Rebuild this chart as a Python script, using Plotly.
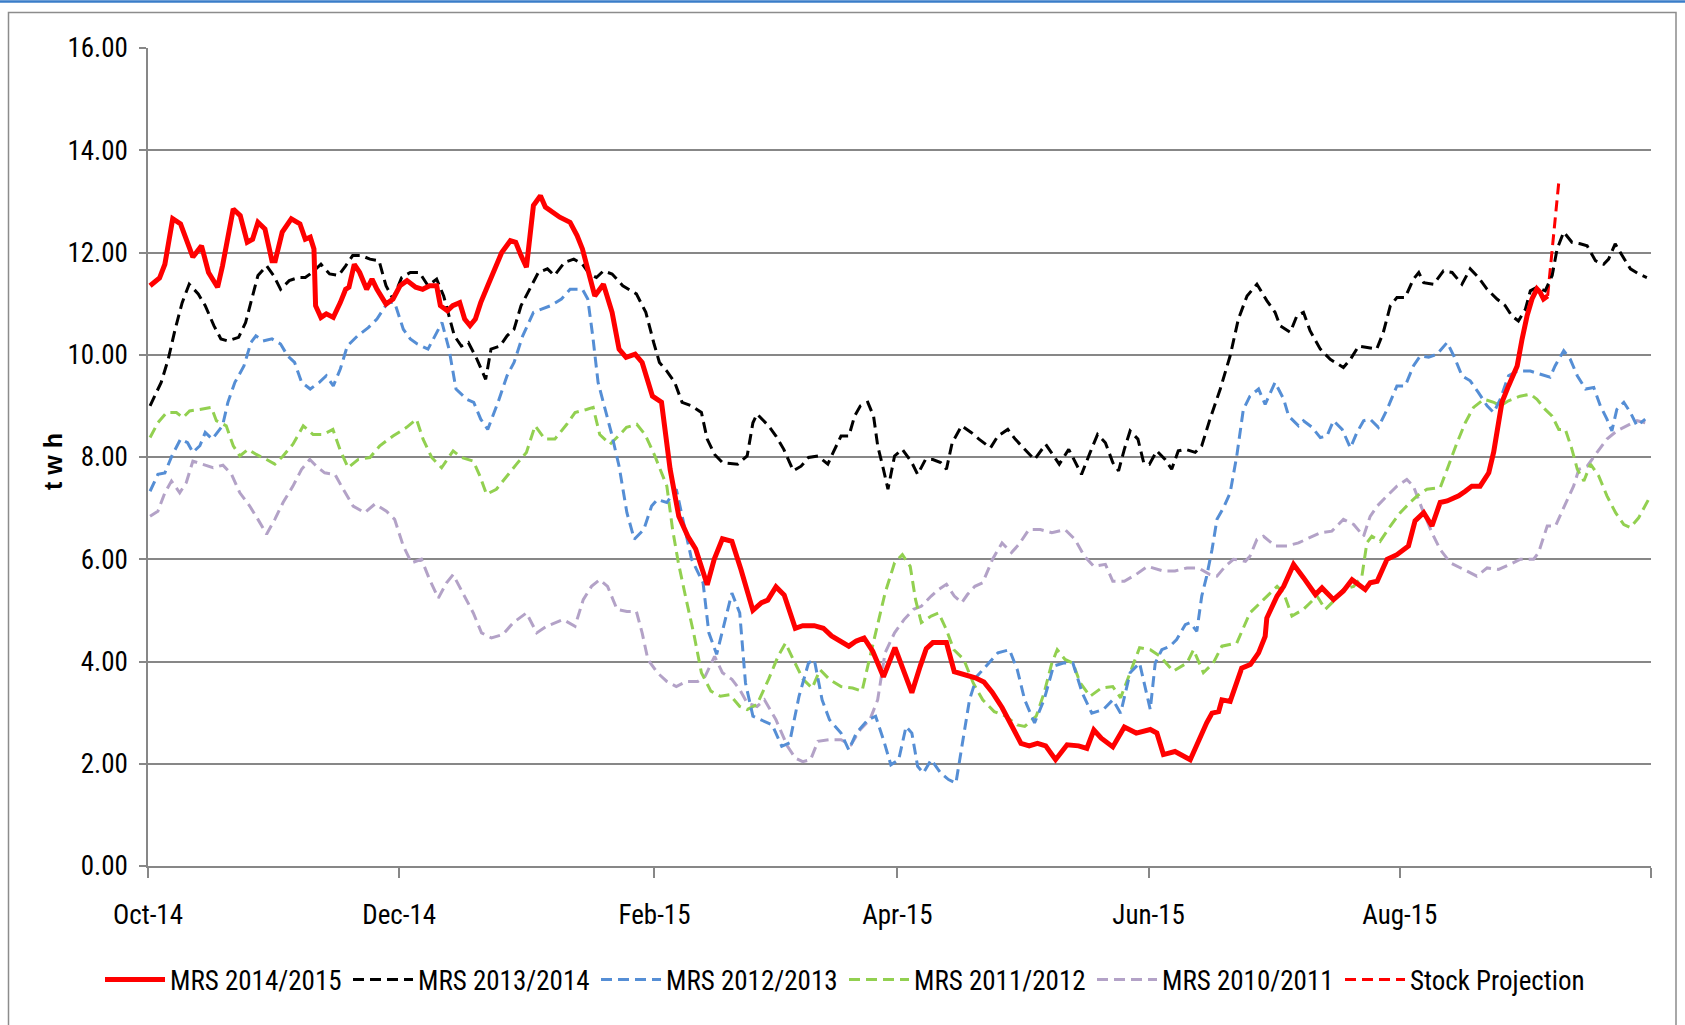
import pandas as pd
import plotly.graph_objects as go

# --- data (day offsets from 1 Oct 2014, stock in twh) ---
START = pd.Timestamp("2014-10-01")

mrs_1415_days = [
    0.5, 2.8, 4.1, 6, 7.9, 9.2, 10.9, 13, 14.7, 16.9, 18.1, 20.7, 22.4, 24.1, 25.4,
    26.7, 28.4, 30.1, 30.9, 32.6, 34.8, 36.9, 38.2, 39.4, 40.3, 40.7, 42, 43.3, 45,
    46.7, 48, 48.8, 50.1, 51.4, 53.1, 54.4, 55.6, 57.8, 59.5, 61.2, 62.9, 65, 66.7,
    68.4, 70.1, 71, 72.7, 74, 75.7, 76.9, 78.2, 79.5, 80.8, 82.5, 84.2, 85.9, 88,
    89.3, 90.6, 91.9, 93.6, 95.3, 96.5, 98.3, 100, 102.5, 104.2, 105.5, 106.3,
    107.6, 108.5, 110.6, 112.7, 114.4, 116.1, 118.3, 120, 122.5, 124.7, 126.8,
    128.9, 131.1, 133, 135.8, 137.5, 139.5, 141.8, 144, 146.9, 149, 150.5, 152.5,
    154.5, 157.2, 159, 161.8, 164, 166, 168, 170.2, 172, 173.9, 176, 178.6, 181.4,
    183, 185.5, 187.5, 189, 190.6, 193.9, 195.8, 198, 200.9, 203, 205, 207.4, 209.5,
    212, 214, 216, 218, 220.4, 223.2, 226, 228, 229.7, 231.5, 234.3, 237.1, 240,
    243.4, 245, 246.6, 249.4, 253.1, 255.1, 257.1, 258.4, 260, 260.8, 262.8, 265.6,
    267.7, 269.7, 271.3, 271.7, 274.2, 275.8, 278.2, 280.6, 283.5, 285.1, 287.9,
    290.3, 292.4, 295.6, 296.8, 298.5, 300.9, 303.3, 306.1, 307.7, 309.8, 311.8,
    313.8, 315.5, 318.3, 319.9, 321.5, 323.5, 325.6, 326.8, 328, 328.8, 330.4,
    332.5, 333.7, 334.9, 336.1, 337.3, 338.1, 338.9, 339.9,
]
mrs_1415 = [
    11.35, 11.5, 11.77, 12.66, 12.56, 12.3, 11.91, 12.13, 11.61, 11.32, 11.74, 12.85,
    12.72, 12.2, 12.26, 12.59, 12.46, 11.84, 11.84, 12.4, 12.66, 12.56, 12.26, 12.3,
    12.07, 10.96, 10.73, 10.8, 10.73, 11.02, 11.28, 11.32, 11.77, 11.61, 11.28,
    11.48, 11.28, 10.99, 11.09, 11.35, 11.45, 11.32, 11.28, 11.35, 11.35, 10.96,
    10.86, 10.96, 11.02, 10.7, 10.57, 10.7, 11.02, 11.35, 11.68, 12.0, 12.23, 12.2,
    11.94, 11.71, 12.92, 13.11, 12.89, 12.79, 12.69, 12.59, 12.33, 12.07, 11.81,
    11.48, 11.15, 11.38, 10.83, 10.11, 9.95, 10.01, 9.85, 9.19, 9.07, 7.76, 6.84,
    6.45, 6.2, 5.5, 6.0, 6.4, 6.35, 5.8, 5.0, 5.15, 5.2, 5.46, 5.3, 4.65, 4.7, 4.7,
    4.65, 4.5, 4.4, 4.3, 4.4, 4.46, 4.2, 3.7, 4.27, 3.9, 3.39, 3.9, 4.25, 4.37, 4.37,
    3.8, 3.75, 3.68, 3.6, 3.4, 3.1, 2.8, 2.4, 2.35, 2.4, 2.35, 2.08, 2.37, 2.35, 2.3,
    2.66, 2.5, 2.33, 2.72, 2.6, 2.67, 2.6, 2.18, 2.24, 2.08, 2.47, 2.8, 2.99, 3.02,
    3.25, 3.22, 3.87, 3.94, 4.17, 4.49, 4.85, 5.28, 5.47, 5.9, 5.64, 5.31, 5.44,
    5.21, 5.38, 5.6, 5.41, 5.54, 5.57, 6.0, 6.09, 6.26, 6.75, 6.91, 6.65, 7.11, 7.14,
    7.24, 7.33, 7.43, 7.43, 7.69, 8.1, 8.61, 9.07, 9.39, 9.78, 10.31, 10.76, 11.09,
    11.29, 11.22, 11.09, 11.15,
]

mrs_1314_days = [
    0.5, 3.2, 4.9, 6.6, 8.3, 10, 12.2, 13.9, 16, 17.7, 19.4, 22, 23.7, 25, 26.7,
    28.8, 30.5, 32.2, 34.3, 36.5, 38.2, 39.9, 42, 44.1, 46.3, 48, 49.7, 51.8, 53.9,
    56.1, 57.8, 59.5, 61.6, 63.7, 65.9, 68, 70.1, 71.8, 73.1, 74.4, 76.1, 77.8,
    79.9, 82, 83.3, 85.5, 87.2, 88.9, 90.6, 92.7, 94.8, 97, 98.7, 101.2, 103.4,
    105.5, 107.2, 108.9, 110.6, 112.7, 115.3, 118.6, 120.9, 122.8, 124.2, 126,
    127.9, 129.7, 132, 134.4, 135.8, 137.6, 139.5, 143.2, 145.5, 146.9, 147.9,
    150.7, 152.5, 154.4, 156.7, 158.6, 160.4, 162.7, 165.1, 166.4, 168.3, 170.2,
    171.6, 173, 174.8, 176.2, 177.2, 178.6, 179.7, 181.3, 183.2, 185.5, 186.9,
    188.8, 190.6, 192.5, 193.9, 195.3, 197.6, 199.9, 201.8, 204.6, 206.4, 208.8,
    210.6, 212.9, 215.3, 218, 220.4, 221.3, 223.6, 225.5, 226.7, 228.8, 230.6,
    232.5, 234.3, 235.7, 237.1, 238.5, 240.4, 241.8, 243.2, 245, 247, 248.6, 250.2,
    251.9, 254.3, 255.9, 257.9, 260.4, 262.8, 264.8, 266.9, 269.3, 271.7, 273.7,
    274.9, 277.4, 279, 280.6, 282.2, 284.7, 287.1, 290.3, 292, 294, 296, 298.4, 300,
    301.7, 303.3, 305.3, 307.3, 308.6, 309.8, 312.2, 314.6, 316.7, 319.1, 321.1,
    323.1, 325.2, 327.6, 329.6, 331.2, 332.8, 334.5, 335.7, 337.3, 339.3, 341,
    342.2, 343.8, 345.8, 347.8, 349.5, 351.5, 353.5, 354.7, 356.3, 358, 360, 362,
    364,
]
mrs_1314 = [
    9.0, 9.46, 9.91, 10.5, 11.02, 11.38, 11.19, 10.96, 10.57, 10.31, 10.27, 10.34,
    10.63, 11.02, 11.55, 11.74, 11.55, 11.28, 11.45, 11.51, 11.51, 11.61, 11.77,
    11.58, 11.55, 11.74, 11.94, 11.94, 11.87, 11.84, 11.35, 11.09, 11.51, 11.61,
    11.61, 11.35, 11.48, 11.15, 10.76, 10.37, 10.17, 10.24, 9.91, 9.52, 10.11,
    10.17, 10.37, 10.5, 10.96, 11.28, 11.61, 11.68, 11.55, 11.81, 11.87, 11.77,
    11.58, 11.51, 11.64, 11.58, 11.35, 11.19, 10.83, 10.24, 9.85, 9.68, 9.46, 9.07,
    9.0, 8.87, 8.35, 8.05, 7.89, 7.86, 8.02, 8.67, 8.84, 8.61, 8.41, 8.15, 7.73,
    7.82, 7.99, 8.02, 7.86, 8.09, 8.41, 8.41, 8.8, 9.0, 9.07, 8.8, 8.22, 7.76, 7.37,
    8.02, 8.15, 7.89, 7.66, 7.95, 7.95, 7.89, 7.76, 8.28, 8.61, 8.48, 8.35, 8.18,
    8.41, 8.54, 8.35, 8.15, 7.95, 8.25, 7.95, 7.86, 8.15, 7.86, 7.66, 8.09, 8.44,
    8.28, 7.89, 7.73, 8.15, 8.51, 8.35, 7.89, 7.86, 8.12, 7.95, 7.76, 8.12, 8.15,
    8.09, 8.22, 8.74, 9.33, 9.98, 10.7, 11.15, 11.38, 11.06, 10.83, 10.57, 10.44,
    10.76, 10.83, 10.47, 10.11, 9.91, 9.75, 9.91, 10.17, 10.14, 10.11, 10.44, 10.96,
    11.12, 11.12, 11.48, 11.61, 11.41, 11.38, 11.64, 11.61, 11.38, 11.68, 11.51,
    11.28, 11.09, 10.96, 10.76, 10.66, 10.89, 11.25, 11.32, 11.25, 11.55, 12.07,
    12.4, 12.2, 12.17, 12.13, 11.84, 11.77, 11.87, 12.17, 11.94, 11.68, 11.58, 11.51,
]

mrs_1213_days = [
    0.5, 2.4, 4.1, 5.8, 7.9, 9.6, 10.9, 12.6, 13.9, 15.6, 18.1, 19.4, 21.1, 23.3,
    25, 26.2, 27.9, 30.1, 32.2, 33.9, 35.6, 37.3, 39.4, 41.6, 43.3, 45, 46.7, 48.4,
    50.9, 53.5, 55.6, 58.2, 59.9, 62, 63.7, 65.4, 68, 69.7, 71.4, 73.1, 74.8, 77.4,
    79.1, 80.8, 82.5, 85, 87.2, 88.9, 91, 93.6, 95.7, 97.8, 100.4, 102.5, 105.5,
    106.8, 108, 109.3, 112.5, 114.4, 116.3, 118.1, 120.4, 122.3, 123.7, 126, 128.3,
    129.7, 132, 134.8, 136.2, 138.1, 140.4, 141.8, 143.7, 145.1, 146.9, 149.7,
    151.6, 153.9, 155.8, 158.1, 160.4, 161.8, 163.7, 165.5, 168.3, 170.2, 172,
    174.8, 176.7, 178.6, 180.4, 182.3, 184.1, 185.5, 186.9, 188.3, 190.2, 192.5,
    194.4, 196.2, 198.1, 199.5, 201.3, 203.6, 206.4, 209.2, 211.1, 212.9, 215.3,
    217.6, 219.9, 222.3, 224.6, 226.9, 229.2, 232, 234.3, 236.2, 238.5, 240.8,
    243.4, 244.6, 246.2, 248.2, 249.8, 251.9, 253.1, 254.7, 255.9, 257.1, 258.4,
    259.6, 261.2, 262.8, 264.4, 266, 267.6, 269.7, 271.3, 273.7, 275.8, 277, 279.4,
    280.6, 282.7, 284.7, 286.3, 287.9, 290, 292, 293.6, 295.2, 296.8, 298.8, 300.9,
    303.3, 305.3, 307.3, 309, 311, 313, 315.5, 317.1, 319.1, 321.1, 323.1, 325.2,
    326.8, 328.4, 330.4, 332.5, 335.7, 338.1, 340.5, 341.7, 343.8, 345.4, 347.1,
    349.1, 351.1, 352.7, 354.3, 355.5, 356.7, 358.4, 360, 361.6, 363.6,
]
mrs_1213 = [
    7.33, 7.66, 7.69, 8.02, 8.35, 8.28, 8.09, 8.22, 8.48, 8.35, 8.61, 9.07, 9.46,
    9.78, 10.24, 10.37, 10.27, 10.31, 10.21, 9.98, 9.85, 9.46, 9.33, 9.46, 9.59,
    9.39, 9.72, 10.17, 10.37, 10.53, 10.7, 11.02, 11.02, 10.5, 10.31, 10.21, 10.11,
    10.37, 10.63, 10.11, 9.33, 9.13, 9.07, 8.74, 8.54, 9.07, 9.59, 9.85, 10.37,
    10.83, 10.89, 10.96, 11.09, 11.28, 11.28, 11.09, 10.37, 9.46, 8.48, 7.82, 6.91,
    6.39, 6.58, 7.04, 7.17, 7.11, 7.37, 6.84, 6.0, 5.54, 4.56, 4.14, 4.89, 5.34,
    4.95, 3.58, 2.93, 2.83, 2.76, 2.34, 2.41, 3.32, 3.97, 4.04, 3.25, 2.86, 2.6,
    2.27, 2.6, 2.86, 2.93, 2.47, 1.98, 2.08, 2.73, 2.6, 1.95, 1.82, 2.08, 1.82, 1.69,
    1.62, 2.6, 3.25, 3.71, 3.91, 4.17, 4.23, 3.84, 3.25, 2.8, 3.25, 3.91, 3.97,
    3.97, 3.38, 2.99, 3.06, 3.25, 2.99, 3.78, 3.97, 3.06, 3.97, 4.23, 4.3, 4.43,
    4.72, 4.76, 4.59, 5.28, 5.67, 6.19, 6.78, 7.01, 7.3, 8.02, 8.93, 9.19, 9.33,
    9.03, 9.46, 9.13, 8.8, 8.61, 8.71, 8.58, 8.38, 8.41, 8.71, 8.54, 8.18, 8.48,
    8.71, 8.74, 8.58, 8.93, 9.39, 9.39, 9.78, 9.98, 9.95, 10.01, 10.24, 9.98, 9.59,
    9.49, 9.26, 9.0, 8.87, 9.13, 9.59, 9.68, 9.68, 9.62, 9.56, 9.78, 10.08, 9.91,
    9.59, 9.33, 9.36, 9.0, 8.74, 8.51, 8.93, 9.07, 8.87, 8.61, 8.74,
]

mrs_1112_days = [
    0.5, 2.4, 4.5, 6.9, 8.5, 10.1, 12.6, 15.4, 16.6, 19, 20.7, 22.3, 24.3, 26.3,
    28.8, 30.8, 32.8, 35.2, 37.7, 40.1, 42.5, 44.9, 46.6, 48.6, 51, 53.9, 56.3,
    59.5, 62.8, 65.2, 66.8, 68.9, 71.3, 74.1, 76.1, 79, 80.6, 82.2, 84.6, 87.1,
    89.5, 91.9, 94, 96.4, 98.8, 101.7, 103.7, 106.5, 108.1, 109.7, 112.2, 114.6,
    116.2, 118.7, 120.7, 123.1, 126, 127.4, 128.8, 130.7, 132.5, 134.4, 136.7, 139,
    141.3, 143.7, 145.5, 147.9, 150.7, 153, 154.8, 156.7, 159.1, 161.3, 163.2,
    165.5, 168.3, 171.1, 173.4, 174.8, 176.7, 179, 181.3, 183.2, 185.1, 186.4,
    187.8, 190.2, 192, 193.9, 195.7, 198.1, 200.4, 202.7, 205.5, 208.3, 211.1,
    212.9, 215.7, 217.6, 219.5, 220.8, 222.7, 224.6, 226.4, 228.8, 231.5, 234.3,
    236.2, 238.5, 240.8, 243.4, 245.8, 249, 252.3, 253.9, 256.3, 258.7, 260.8,
    264.4, 267.6, 270.9, 274.2, 275.8, 277.8, 280.6, 283.9, 285.9, 288.3, 290.3,
    292.8, 294.8, 296, 297.2, 299.2, 301.7, 304.1, 306.5, 308.2, 310.6, 313.8,
    315.5, 317.9, 319.9, 321.9, 324.4, 326.8, 328.4, 330.4, 333.2, 335.7, 337.3,
    339.3, 341, 342.6, 344.2, 345.8, 347.1, 348.7, 350.3, 352.3, 354.3, 356.4,
    358.4, 360, 362, 364.4,
]
mrs_1112 = [
    8.38, 8.67, 8.87, 8.87, 8.77, 8.9, 8.93, 8.97, 8.71, 8.61, 8.22, 8.02, 8.15,
    8.05, 7.95, 7.86, 8.02, 8.25, 8.61, 8.44, 8.44, 8.54, 8.15, 7.79, 7.95, 7.99,
    8.22, 8.41, 8.58, 8.74, 8.35, 7.99, 7.79, 8.12, 7.99, 7.92, 7.63, 7.27, 7.37,
    7.63, 7.86, 8.09, 8.61, 8.35, 8.35, 8.64, 8.87, 8.93, 8.97, 8.44, 8.25, 8.44,
    8.58, 8.64, 8.44, 8.02, 7.43, 6.58, 5.93, 5.21, 4.56, 3.78, 3.42, 3.32, 3.35,
    3.12, 3.06, 3.16, 3.65, 4.1, 4.36, 4.04, 3.65, 3.48, 3.84, 3.65, 3.51, 3.48,
    3.42, 3.91, 4.56, 5.34, 5.93, 6.09, 5.86, 5.21, 4.76, 4.89, 4.95, 4.62, 4.23,
    4.04, 3.58, 3.25, 3.02, 2.93, 2.76, 2.73, 2.93, 3.38, 3.97, 4.23, 4.04, 3.97,
    3.58, 3.32, 3.48, 3.51, 3.29, 3.78, 4.27, 4.23, 4.1, 3.81, 3.97, 4.23, 3.78,
    3.97, 4.3, 4.36, 4.95, 5.21, 5.47, 5.34, 4.89, 5.02, 5.28, 5.02, 5.21, 5.41,
    5.47, 5.67, 6.32, 6.45, 6.35, 6.65, 6.91, 7.11, 7.24, 7.37, 7.4, 7.76, 8.28,
    8.67, 8.97, 9.13, 9.07, 9.0, 9.1, 9.19, 9.23, 9.13, 8.93, 8.8, 8.54, 8.54, 8.15,
    7.76, 7.53, 7.86, 7.63, 7.24, 6.91, 6.68, 6.62, 6.81, 7.17,
]

mrs_1011_days = [
    0.5, 2.4, 4.1, 5.7, 7.7, 9.3, 10.9, 13.4, 15.8, 18.2, 20.3, 22.3, 24.7, 26.7,
    28.8, 30.8, 32.8, 35.2, 37.3, 39.3, 40.9, 42.9, 45.4, 47.4, 49.8, 52.6, 55.1,
    57.9, 59.9, 62, 64, 66.4, 68.4, 70.5, 72.5, 74.1, 76.5, 79, 81, 83.4, 86.2,
    88.7, 91.9, 94.4, 96.8, 100.8, 103.7, 105.7, 107.7, 109.7, 111.6, 113.9, 116.3,
    118.6, 120, 121.4, 123.7, 126, 128.3, 130.7, 133.5, 135.3, 137.6, 139.5, 141.8,
    143.7, 145.5, 147.9, 149.7, 152.5, 155.3, 157.2, 159, 160.9, 162.7, 165.5,
    168.3, 170.7, 173, 175.3, 177.2, 179, 181.3, 183.6, 185.9, 187.8, 190.2, 192,
    193.9, 195.8, 197.6, 199, 200.8, 202.7, 205.1, 207.4, 209.7, 211.5, 213.9,
    216.7, 219.5, 222.7, 225.1, 227.4, 229.7, 232.5, 234.3, 237.1, 239.9, 242.7,
    246.6, 249.4, 252.3, 255.1, 257.9, 259.6, 261.6, 263.6, 266.5, 267.6, 269.3,
    270.9, 273.7, 276.6, 279.4, 282.2, 284.7, 287.5, 290.3, 292.8, 295.2, 296.8,
    298.5, 300.9, 303.3, 305.7, 307.3, 309.3, 311.8, 313.8, 316.3, 319.5, 322.7,
    325.2, 328, 330.8, 333.3, 336.5, 337.7, 339.8, 341.8, 343.8, 346.2, 347.5,
    349.5, 351.9, 354.3, 356.7, 359.2, 361.6, 363.6,
]
mrs_1011 = [
    6.84, 6.94, 7.3, 7.53, 7.3, 7.5, 7.92, 7.86, 7.79, 7.84, 7.66, 7.3, 7.04, 6.78,
    6.49, 6.78, 7.11, 7.43, 7.76, 7.95, 7.82, 7.69, 7.66, 7.37, 7.04, 6.91, 7.08,
    6.94, 6.78, 6.26, 5.93, 6.0, 5.6, 5.24, 5.54, 5.7, 5.34, 4.95, 4.56, 4.46, 4.53,
    4.76, 4.95, 4.56, 4.69, 4.82, 4.69, 5.21, 5.47, 5.6, 5.47, 5.02, 4.98, 4.98,
    4.56, 4.04, 3.78, 3.61, 3.51, 3.61, 3.61, 3.71, 4.1, 3.78, 3.65, 3.45, 3.19,
    3.12, 3.25, 2.86, 2.34, 2.11, 2.04, 2.08, 2.44, 2.47, 2.47, 2.37, 2.67, 2.86,
    3.25, 4.17, 4.56, 4.82, 5.02, 5.08, 5.28, 5.41, 5.51, 5.28, 5.15, 5.31, 5.47,
    5.54, 6.0, 6.32, 6.13, 6.29, 6.58, 6.58, 6.52, 6.58, 6.39, 6.06, 5.86, 5.9,
    5.57, 5.57, 5.7, 5.86, 5.77, 5.77, 5.83, 5.83, 5.7, 5.67, 5.86, 6.0, 5.96, 6.06,
    6.39, 6.45, 6.26, 6.26, 6.32, 6.42, 6.52, 6.55, 6.78, 6.68, 6.45, 6.84, 7.04,
    7.24, 7.43, 7.56, 7.43, 7.01, 6.52, 6.19, 5.93, 5.8, 5.67, 5.83, 5.8, 5.9, 6.0,
    6.0, 6.13, 6.65, 6.65, 7.01, 7.43, 7.76, 7.82, 8.09, 8.35, 8.51, 8.61, 8.71,
    8.67,
]

projection_days = [339.9, 341.2, 342.6]
projection = [11.15, 12.2, 13.37]

tick_dates = ["2014-10-01", "2014-12-01", "2015-02-01", "2015-04-01",
              "2015-06-01", "2015-08-01", "2015-10-01"]
tick_labels = ["Oct-14", "Dec-14", "Feb-15", "Apr-15", "Jun-15", "Aug-15", ""]

# --- layout constants (pixels) ---
W, H = 1685, 1025
ML, MR, MT, MB = 148, 34, 48, 159
PLOT_W = W - ML - MR
PLOT_H = H - MT - MB
FONT = "Liberation Sans Narrow, Arial Narrow, Roboto Condensed, DejaVu Sans Condensed, sans-serif"
GRID = "#878787"


def to_dates(days):
    return START + pd.to_timedelta(days, unit="D")


def px_x(px):
    return (px - ML) / PLOT_W


def px_y(py):
    return (H - MB - py) / PLOT_H


series = [
    ("MRS 2014/2015", mrs_1415_days, mrs_1415, "#ff0000", 5, "solid"),
    ("MRS 2013/2014", mrs_1314_days, mrs_1314, "#000000", 3, "11px,6px"),
    ("MRS 2012/2013", mrs_1213_days, mrs_1213, "#558ed5", 3, "11px,6px"),
    ("MRS 2011/2012", mrs_1112_days, mrs_1112, "#92d050", 3, "11px,6px"),
    ("MRS 2010/2011", mrs_1011_days, mrs_1011, "#b3a2c7", 3, "11px,6px"),
    ("Stock Projection", projection_days, projection, "#ff0000", 3, "11px,6px"),
]

fig = go.Figure()
# draw older seasons first so the current season sits on top
for name, days, vals, color, width, dash in reversed(series):
    fig.add_trace(go.Scatter(
        x=to_dates(days), y=vals, name=name, mode="lines",
        line=dict(color=color, width=width, dash=dash),
    ))

fig.update_layout(
    width=W, height=H,
    margin=dict(l=ML, r=MR, t=MT, b=MB),
    paper_bgcolor="white", plot_bgcolor="white",
    font=dict(family=FONT, size=27, color="black"),
    showlegend=True,
    legend=dict(
        orientation="h", traceorder="reversed",
        x=px_x(100), xanchor="left", y=px_y(980), yanchor="middle",
        font=dict(family=FONT, size=27, color="black"),
        itemwidth=60, entrywidth=173, entrywidthmode="pixels",
        bgcolor="rgba(0,0,0,0)",
    ),
    xaxis=dict(
        range=[START, pd.Timestamp("2015-10-01")],
        tickvals=pd.to_datetime(tick_dates), ticktext=tick_labels,
        showgrid=False, zeroline=False,
        showline=True, linecolor=GRID, linewidth=2,
        ticks="outside", ticklen=10, tickwidth=1.5, tickcolor=GRID,
        ticklabelstandoff=14,
    ),
    yaxis=dict(
        range=[0, 16], dtick=2, tickformat=".2f",
        showgrid=True, gridcolor=GRID, gridwidth=2, zeroline=False,
        showline=True, linecolor=GRID, linewidth=1.5,
        ticks="outside", ticklen=7, tickwidth=1.5, tickcolor=GRID,
        ticklabelstandoff=6,
    ),
    annotations=[
        dict(text="<b>t w h</b>", textangle=-90, showarrow=False,
             xref="paper", yref="paper", x=px_x(53), y=px_y(461),
             xanchor="center", yanchor="middle",
             font=dict(family="Liberation Sans, Arial, sans-serif", size=25, color="black")),
    ],
    shapes=[
        # outer chart frame
        dict(type="rect", xref="paper", yref="paper",
             x0=px_x(8.5), x1=px_x(1676), y0=px_y(1040), y1=px_y(12.5),
             line=dict(color="#8c8c8c", width=1.5), layer="below"),
        # blue rule along the top of the page
        dict(type="line", xref="paper", yref="paper",
             x0=px_x(0), x1=px_x(W), y0=px_y(1.5), y1=px_y(1.5),
             line=dict(color="#3a7dc9", width=2.5)),
    ],
)

# the page body has a default margin; drop it so the figure sits at (0, 0)
fig.write_html("out.html", config={"displayModeBar": False},
               post_script="document.body.style.margin='0';")
